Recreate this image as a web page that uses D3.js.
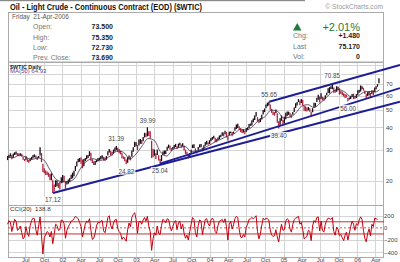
<!DOCTYPE html>
<html>
<head>
<meta charset="utf-8">
<script src="https://cdn.jsdelivr.net/npm/d3@7"></script>
<style>
body { margin: 0; background: #fff; }
svg { display: block; font-family: "Liberation Sans", Arial, sans-serif; }
</style>
</head>
<body>
<div id="my_dataviz"></div>
<script>

// weekly ranges ($WTIC), week ending Friday 6-Apr-2001 .. 21-Apr-2006
var weekLow = [
    26.2,27.0,27.4,26.5, 27.0,28.0,28.2,27.6, 27.5,27.8,27.4,26.3,25.9, 26.3,25.6,25.3,25.8,
    26.4,26.8,27.2,26.7,26.2, 26.9,27.8,25.5,22.5, 22.1,21.6,21.6,21.1, 20.2,20.2,17.12,17.5,18.5,
    18.7,18.3,17.9,19.4,
    19.6,19.7,18.1,19.1, 19.3,19.7,20.5,20.7, 21.3,22.8,24.1,25.5,25.6, 25.0,23.6,24.2,25.8,
    26.5,26.9,27.6,26.0,25.2, 24.6,24.6,25.5,25.8, 26.2,26.4,26.7,26.0, 25.9,26.3,27.8,28.9,27.9,
    27.8,28.7,29.3,29.8, 29.1,28.6,28.2,26.8, 26.6,25.8,24.82,25.3,26.4, 26.1,27.4,29.2,31.0,
    31.3,29.8,31.6,32.4,32.3, 33.4,35.1,35.2,35.6, 35.8,34.6,26.9,27.2, 27.7,26.6,28.0,26.1,
    25.04,25.8,27.9,28.2,28.3, 29.6,30.6,29.9,29.5, 30.0,30.4,31.0,30.2, 30.7,31.6,30.8,31.2,29.7,
    28.3,28.3,26.8,27.0, 28.3,30.6,30.6,28.9,28.5, 29.7,30.8,30.9,29.3, 29.8,31.5,32.0,31.9,
    32.2,33.4,34.1,34.6,33.0, 33.0,33.9,34.4,35.2, 35.9,35.6,36.6,35.1, 33.7,36.1,37.1,35.6,36.8,
    38.3,39.2,39.7,38.8, 37.6,37.2,37.4,36.6, 37.7,38.6,39.5,40.8,41.0, 42.7,44.0,46.0,43.0,
    42.1,42.8,44.2,47.2, 48.7,51.2,52.5,53.0,50.2, 48.2,46.9,46.5,47.9, 42.5,39.40,41.4,43.5,41.6,
    42.1,44.4,46.3,47.0, 45.6,45.3,47.0,48.8, 51.3,53.0,55.4,53.2, 54.8,53.0,49.5,49.3,49.0,
    49.8,48.9,46.2,48.6, 51.8,52.2,55.4,57.2, 55.1,57.6,56.7,56.3,57.5, 60.6,62.3,62.0,65.6,
    65.5,62.5,62.5,63.3,64.6, 61.1,61.5,60.6,59.6, 58.4,58.8,56.0,57.3, 57.6,59.4,57.5,57.9,58.4,
    60.8,62.5,63.5,65.5, 64.3,61.6,58.4,60.0, 60.6,58.9,61.5,60.5,63.0, 65.4,67.6,70.6
];

var weekHigh = [
    27.6,28.0,28.6,28.0, 28.5,29.0,29.3,28.7, 28.6,28.6,28.4,27.3,26.6, 27.5,26.8,26.3,26.8,
    27.3,28.0,28.2,27.8,27.4, 27.6,30.9,28.7,25.0, 23.6,22.9,22.6,22.3, 21.9,22.1,20.3,19.1,20.2,
    20.1,19.5,19.8,21.0,
    21.6,21.4,19.9,20.0, 20.4,20.8,21.7,22.3, 22.8,24.3,25.7,26.7,26.9, 27.2,26.4,26.6,26.9,
    27.9,28.0,29.4,28.8,26.5, 25.7,25.9,26.4,26.9, 27.0,27.6,27.9,27.3, 27.1,27.6,29.4,30.2,29.6,
    29.1,30.0,30.8,31.39, 30.7,30.2,29.6,28.7, 27.5,27.3,26.4,27.2,27.8, 27.4,29.7,30.9,33.2,
    33.0,31.9,34.2,34.4,34.0, 35.3,37.3,37.0,39.99, 38.0,38.0,33.6,30.3, 30.0,28.6,30.0,27.9,
    26.6,28.0,29.3,29.7,29.7, 31.1,32.0,31.6,30.6, 31.0,31.8,32.3,31.3, 32.4,32.8,32.0,32.6,31.6,
    30.0,29.2,28.2,28.6, 29.9,32.0,32.2,30.5,29.4, 31.0,32.1,32.3,30.7, 31.7,33.0,33.6,33.0,
    33.9,34.8,35.3,35.9,35.0, 34.4,35.1,36.0,36.3, 37.5,37.4,38.3,37.6, 35.6,37.8,37.9,37.6,37.9,
    40.0,41.5,41.9,40.5, 39.6,38.6,39.0,38.1, 39.7,40.0,41.7,42.0,43.8, 44.9,46.6,48.7,45.6,
    44.3,45.0,47.0,50.0, 51.0,53.7,55.0,55.65,53.8, 50.8,49.0,48.7,50.3, 48.0,43.3,45.0,46.6,44.0,
    45.9,48.3,49.1,49.0, 48.3,47.3,48.8,51.6, 54.6,55.5,57.6,56.6, 57.6,57.0,53.0,52.5,51.7,
    52.0,51.2,49.0,51.2, 55.0,54.8,58.6,60.95, 59.6,62.1,59.3,58.8,60.6, 62.5,66.2,67.2,68.0,
    70.85,66.8,65.2,68.0,67.5, 66.3,64.2,63.5,62.2, 61.5,61.0,58.5,58.8, 60.2,61.5,61.8,59.5,61.4,
    64.6,64.9,68.7,68.0, 66.7,64.4,61.8,63.0, 63.7,62.4,64.5,64.6,67.0, 68.1,69.9,75.35
];

var cci20 = [
    60,120,90,-60, 40,140,110,-40, -20,30,-80,-180,-150, 20,-90,-140,40,
    120,160,150,-30,-120, 30,180,-120,-430, -160,-110,-60,-80, -150,-60,-260,-110,60,
    40,-40,-30,130,
    120,70,-170,-40, 20,60,110,120, 150,190,170,150,90, 20,-150,-50,60,
    110,90,150,-40,-190, -170,-90,40,90, 80,110,120,-50, -80,30,170,200,40,
    -20,80,130,140, -10,-60,-90,-190, -150,-180,-220,-30,80, 20,170,220,250,
    140,-90,100,110,60, 130,170,110,190, 30,-60,-370,-180, -80,-120,30,-90,
    -110,40,140,120,80, 150,140,30,-50, 20,90,120,-30, 80,110,-20,60,-90,
    -170,-120,-200,-60, 60,170,140,-80,-150, 40,130,110,-110, 20,140,150,70,
    30,130,160,120,-60, -90,40,110,120, 140,90,150,20, -200,60,110,-20,50,
    150,190,170,-20, -150,-160,-110,-150, 10,60,140,150,170, 150,170,200,-60,
    -180,-100,40,160, 130,160,150,130,-30, -120,-140,-130,-30, -150,-230,-70,60,-40,
    -30,110,150,130, -20,-70,60,140, 160,170,190,60, 90,-20,-180,-160,-140,
    -40,-60,-210,30, 120,90,170,180, -50,110,-40,-70,60, 120,160,150,140,
    170,-60,-120,10,-20, -130,-110,-160,-210, -120,-70,-200,-90, 20,110,60,-40,70,
    40,130,180,140, -40,-170,-230,-90, -20,-130,60,20, 160,150,138.8
];

// MA(50) read at the first of each month, Apr-2001 .. Apr-2006, plus the last day
var ma50 = [
    27.2,27.0,27.9,27.3,26.4,26.9,26.2,23.0,20.4,
    19.8,19.9,20.6,23.6,25.8,26.7,26.0,26.6,27.9,29.5,28.9,26.6,
    28.4,31.6,34.6,33.8,29.2,27.6,29.9,30.8,31.2,29.3,29.6,30.6,
    31.8,33.4,34.5,35.9,36.8,39.0,38.6,40.5,44.0,45.9,50.0,49.3,
    45.2,45.6,47.9,52.6,53.6,51.6,54.6,58.8,63.4,65.1,63.1,59.4,
    59.7,62.9,63.6,63.2,64.93
];

var priceTicks = [20, 30, 40, 50, 60, 70];
var priceGrid = [20, 30, 40, 50, 60, 70, 80, 90];
var cciTicks = [200, 0, -200, -400];

var marks = [
    {date: "2001-11-15", value: 17.12, side: 1},
    {date: "2002-09-24", value: 31.39, side: -1},
    {date: "2002-11-14", value: 24.82, side: 1},
    {date: "2003-02-27", value: 39.99, side: -1},
    {date: "2003-04-29", value: 25.04, side: 1},
    {date: "2004-10-22", value: 55.65, side: -1},
    {date: "2004-12-09", value: 39.40, side: 1},
    {date: "2005-08-30", value: 70.85, side: -1},
    {date: "2005-11-17", value: 56.00, side: 1}
];

var trendLines = [
    {from: ["2001-11-15", 17.12], to: ["2006-08-01", 55.7]},
    {from: ["2003-04-29", 25.04], to: ["2006-08-01", 66.4]},
    {from: ["2004-10-22", 55.65], to: ["2006-08-01", 89.4]}
];

var parse = d3.timeParse("%Y-%m-%d");
var weeks = d3.timeFriday.range(new Date(2001, 3, 6), new Date(2006, 3, 22));
var maDates = d3.timeMonth.range(new Date(2001, 3, 1), new Date(2006, 3, 2));
maDates.push(new Date(2006, 3, 21));

var svg = d3.select("#my_dataviz")
    .append("svg")
    .attr("width", 400)
    .attr("height", 262);

svg.append("rect").attr("width", 400).attr("height", 262).attr("fill", "#fff");

// panels
var left = 8, right = 384;
var mainTop = 62, mainBottom = 205, cciBottom = 257;

var x = d3.scaleTime()
    .domain([new Date(2001, 3, 6), new Date(2006, 4, 14)])
    .range([left, right]);

var y = d3.scaleLog()
    .domain([14.67, 93.0])
    .range([mainBottom, mainTop]);

var yc = d3.scaleLinear()
    .domain([-479, 376])
    .range([cciBottom, mainBottom]);

// header
svg.append("rect").attr("x", 0).attr("y", 0).attr("width", 305).attr("height", 1.2).attr("fill", "#8a8a8a");
svg.append("text")
    .attr("x", 10).attr("y", 9.5)
    .attr("font-size", 8.6).attr("font-weight", "bold").attr("fill", "#111")
    .attr("textLength", 192).attr("lengthAdjust", "spacingAndGlyphs")
    .text("Oil - Light Crude - Continuous Contract (EOD) ($WTIC)");
svg.append("text")
    .attr("x", 383).attr("y", 9).attr("text-anchor", "end")
    .attr("font-size", 6.7).attr("fill", "#999")
    .text("\u00a9 StockCharts.com");

svg.append("rect")
    .attr("x", left + 0.5).attr("y", 12.5)
    .attr("width", right - left - 1).attr("height", mainTop - 12.5)
    .attr("fill", "#fff").attr("stroke", "#aaa");

svg.append("text").attr("x", 12).attr("y", 18.5)
    .attr("font-size", 6.4).attr("fill", "#555").attr("xml:space", "preserve")
    .text("Friday  21-Apr-2006");

var infoLeft = [["Open:", "73.500", 29], ["High:", "75.350", 40], ["Low:", "72.730", 50], ["Prev. Close:", "73.690", 60]];
var infoRight = [["Chg:", "+1.480", 38.3], ["Last", "75.170", 48.7], ["Vol:", "0", 59]];

infoLeft.forEach(function (r) {
    svg.append("text").attr("x", 33).attr("y", r[2]).attr("font-size", 7).attr("fill", "#777").text(r[0]);
    svg.append("text").attr("x", 113).attr("y", r[2]).attr("text-anchor", "end")
        .attr("font-size", 7).attr("font-weight", "bold").attr("fill", "#222").text(r[1]);
});
infoRight.forEach(function (r) {
    svg.append("text").attr("x", 293).attr("y", r[2]).attr("font-size", 7).attr("fill", "#777").text(r[0]);
    svg.append("text").attr("x", 360).attr("y", r[2]).attr("text-anchor", "end")
        .attr("font-size", 7).attr("font-weight", "bold").attr("fill", "#222").text(r[1]);
});
svg.append("path").attr("d", "M293,30.5L301.5,30.5L297.25,23Z").attr("fill", "#1f7a3e");
svg.append("text").attr("x", 360).attr("y", 30.7).attr("text-anchor", "end")
    .attr("font-size", 11).attr("fill", "#1f7a3e").text("+2.01%");

// grid
var quarters = d3.timeMonth.range(new Date(2001, 6, 1), new Date(2006, 4, 1), 3);
var grid = svg.append("g").attr("stroke", "#d4d4d4").attr("stroke-width", 1);
grid.selectAll(".v").data(quarters).enter().append("line")
    .attr("x1", function (d) { return Math.round(x(d)) + 0.5; })
    .attr("x2", function (d) { return Math.round(x(d)) + 0.5; })
    .attr("y1", mainTop).attr("y2", cciBottom);
grid.selectAll(".h").data(priceGrid).enter().append("line")
    .attr("x1", left).attr("x2", right)
    .attr("y1", function (d) { return Math.round(y(d)) + 0.5; })
    .attr("y2", function (d) { return Math.round(y(d)) + 0.5; });
grid.selectAll(".hc").data([200, -200, -400]).enter().append("line")
    .attr("x1", left).attr("x2", right)
    .attr("y1", function (d) { return Math.round(yc(d)) + 0.5; })
    .attr("y2", function (d) { return Math.round(yc(d)) + 0.5; });

svg.append("rect").attr("x", left + 0.5).attr("y", mainTop + 0.5)
    .attr("width", right - left - 1).attr("height", mainBottom - mainTop)
    .attr("fill", "none").attr("stroke", "#aaa");
svg.append("rect").attr("x", left + 0.5).attr("y", mainBottom + 0.5)
    .attr("width", right - left - 1).attr("height", cciBottom - mainBottom)
    .attr("fill", "none").attr("stroke", "#aaa");

// price bars
var bars = weeks.map(function (d, i) {
    return {date: d3.timeDay.offset(d, -2), lo: weekLow[i], hi: weekHigh[i]};
});
svg.append("g").selectAll("line").data(bars).enter().append("line")
    .attr("x1", function (d) { return x(d.date); })
    .attr("x2", function (d) { return x(d.date); })
    .attr("y1", function (d) { return y(d.lo); })
    .attr("y2", function (d) { return y(d.hi); })
    .attr("stroke", function (d, i) {
        return i > 0 && d.lo + d.hi < bars[i - 1].lo + bars[i - 1].hi ? "#b3203a" : "#1c0a16";
    })
    .attr("stroke-width", 1.3);

// MA(50)
svg.append("path")
    .datum(ma50)
    .attr("fill", "none").attr("stroke", "#3d2a45").attr("stroke-width", 0.8)
    .attr("d", d3.line()
        .x(function (d, i) { return x(maDates[i]); })
        .y(function (d) { return y(d); })
        .curve(d3.curveMonotoneX));

// trend lines
svg.append("g").selectAll("line").data(trendLines).enter().append("line")
    .attr("x1", function (d) { return x(parse(d.from[0])); })
    .attr("y1", function (d) { return y(d.from[1]); })
    .attr("x2", function (d) { return x(parse(d.to[0])); })
    .attr("y2", function (d) { return y(d.to[1]); })
    .attr("stroke", "#1d1d96").attr("stroke-width", 2);

// high / low labels
var lab = svg.append("g").selectAll("g").data(marks).enter().append("g")
    .attr("transform", function (d) {
        return "translate(" + x(parse(d.date)) + "," + (y(d.value) + d.side * 7) + ")";
    });
lab.append("rect").attr("x", -9).attr("y", -3.5).attr("width", 18).attr("height", 7)
    .attr("fill", "#fff").attr("opacity", 0.85);
lab.append("text").attr("text-anchor", "middle").attr("dy", 2.3)
    .attr("font-size", 6.3).attr("fill", "#444")
    .text(function (d) { return d.value.toFixed(2); });

svg.append("text").attr("x", 10).attr("y", 68.6)
    .attr("font-size", 5.4).attr("font-weight", "bold").attr("fill", "#222").text("$WTIC Daily");
svg.append("text").attr("x", 10).attr("y", 73.4)
    .attr("font-size", 6).attr("fill", "#6a3d8a").text("MA(50) 64.93");

// CCI panel
svg.append("g").selectAll("line").data([100, -100]).enter().append("line")
    .attr("x1", left).attr("x2", right)
    .attr("y1", function (d) { return yc(d); })
    .attr("y2", function (d) { return yc(d); })
    .attr("stroke", "#c43030").attr("stroke-width", 1);
svg.append("line")
    .attr("x1", left).attr("x2", right).attr("y1", yc(0)).attr("y2", yc(0))
    .attr("stroke", "#c43030").attr("stroke-width", 0.8).attr("stroke-dasharray", "2,2");

svg.append("path")
    .datum(cci20)
    .attr("fill", "none").attr("stroke", "#c40010").attr("stroke-width", 1)
    .attr("d", d3.line()
        .x(function (d, i) { return x(d3.timeDay.offset(weeks[i], -2)); })
        .y(function (d) { return yc(d); }));

svg.append("text").attr("x", 10).attr("y", 211)
    .attr("font-size", 6.2).attr("fill", "#333").attr("xml:space", "preserve").text("CCI(20)  138.8");

// axes
function styleAxis(g) {
    g.select(".domain").remove();
    g.selectAll("text").attr("fill", "#444").attr("font-size", 6)
        .attr("font-family", "Liberation Sans, Arial, sans-serif");
}

svg.append("g")
    .attr("transform", "translate(" + right + ",0)")
    .call(d3.axisRight(y).tickValues(priceTicks).tickSize(0).tickPadding(2).tickFormat(d3.format("d")))
    .call(styleAxis);

svg.append("g")
    .attr("transform", "translate(" + (right - 1) + ",0)")
    .call(d3.axisRight(yc).tickValues(cciTicks).tickSize(0).tickPadding(1).tickFormat(d3.format("d")))
    .call(styleAxis);

svg.append("g")
    .attr("transform", "translate(0," + cciBottom + ")")
    .call(d3.axisBottom(x).tickValues(quarters).tickSize(0).tickPadding(1)
        .tickFormat(function (d) { return d.getMonth() === 0 ? d3.timeFormat("%y")(d) : d3.timeFormat("%b")(d); }))
    .call(styleAxis);

</script>
</body>
</html>
